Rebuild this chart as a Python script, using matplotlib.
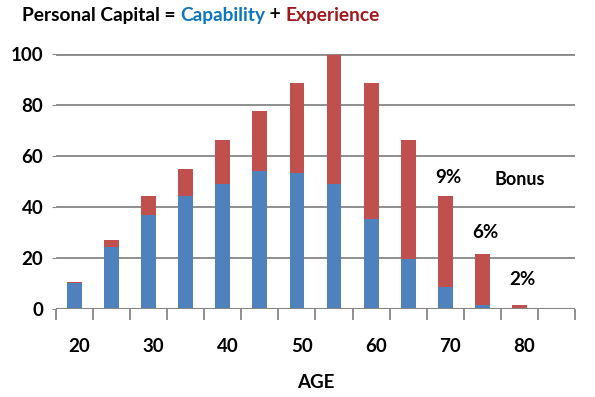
import matplotlib.pyplot as plt
import matplotlib.transforms as mtransforms
import numpy as np

ages = [20, 25, 30, 35, 40, 45, 50, 55, 60, 65, 70, 75, 80, 85]
capability = [10.2, 24.5, 36.9, 44.4, 49.1, 54.1, 53.3, 49.1, 35.3, 19.6, 8.6, 1.6, 0.0, 0.0]
experience = [0.3, 2.6, 7.5, 10.5, 17.2, 23.5, 35.3, 50.5, 53.3, 46.7, 35.7, 20.0, 1.6, 0.0]
age_labels = [20, 30, 40, 50, 60, 70, 80]
y_ticks = [0, 20, 40, 60, 80, 100]
bonus_ages = [70, 75, 80]
bonus_text = ['9%', '6%', '2%']
bonus_y = [51.5, 30, 11.5]

blue = '#4F81BD'
red = '#C0504D'
grid = '#868686'
font = 'Lato'
fs = 13.5

fig = plt.figure(figsize=(5.95, 3.97), dpi=100)
ax = fig.add_axes([0.0941, 0.2217, 0.8723, 0.6423])

ax.bar(ages, capability, width=2.0, color=blue, zorder=3)
ax.bar(ages, experience, width=2.0, bottom=capability, color=red, zorder=3)

ax.set_xlim(17.5, 87.5)
ax.set_ylim(0, 100)

for v in y_ticks[1:]:
    ax.axhline(v, color=grid, lw=1.3 if v < 100 else 2, zorder=1)
ax.axhline(0, color=grid, lw=1.5, zorder=4)

for s in ax.spines.values():
    s.set_visible(False)

ax.set_yticks(y_ticks)
ax.set_yticklabels([str(v) for v in y_ticks], fontsize=fs, fontweight='bold', family=font)
ax.tick_params(axis='y', length=3, color=grid, pad=6)

ax.set_xticks(age_labels)
ax.set_xticklabels([str(a) for a in age_labels], fontsize=fs, fontweight='bold', family=font)
ax.set_xticks(np.arange(17.5, 88, 5), minor=True)
ax.tick_params(axis='x', which='major', length=0, pad=21)
ax.tick_params(axis='x', which='minor', length=8, width=1.3, color=grid, direction='out')
# labels sit a little right of the bars, as in the original
shift = mtransforms.ScaledTranslation(5 / 100, 0, fig.dpi_scale_trans)
for lbl in ax.get_xticklabels():
    lbl.set_transform(lbl.get_transform() + shift)

ax.text(0.5, -0.29, 'AGE', transform=ax.transAxes, ha='center', va='center',
        fontsize=fs, fontweight='bold', family=font)

for a, t, y in zip(bonus_ages, bonus_text, bonus_y):
    ax.text(a + 0.4, y, t, ha='center', va='center', fontsize=fs, fontweight='bold', family=font)
ax.text(80, 50.6, 'Bonus', ha='center', va='center', fontsize=fs - 0.5, fontweight='bold', family=font)

# title with coloured words
parts = [('Personal Capital = ', 'black'), ('Capability', '#0E76BC'),
         (' + ', 'black'), ('Experience', '#A1191D')]
x = 22 / 595
renderer = fig.canvas.get_renderer()
for txt, col in parts:
    t = fig.text(x, 1 - 15 / 397, txt, color=col, fontsize=13.8, fontweight='bold',
                 family=font, ha='left', va='center')
    bb = t.get_window_extent(renderer=renderer)
    x += bb.width / fig.bbox.width

fig.savefig('out.png', dpi=100)
